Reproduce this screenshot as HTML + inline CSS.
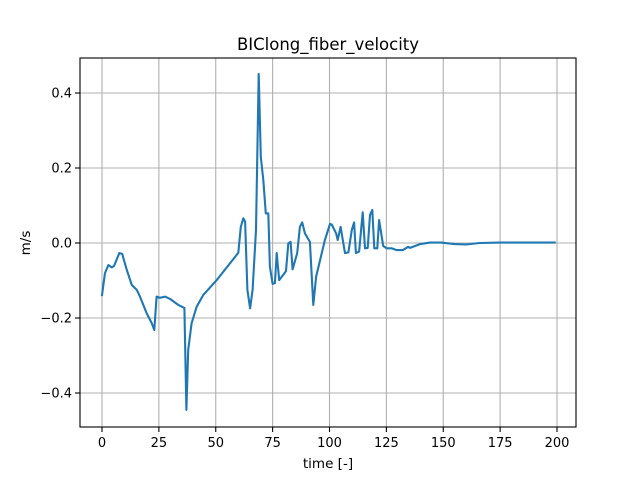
<!DOCTYPE html>
<html><head><meta charset="utf-8"><style>
body{margin:0;background:#fff;}
svg text{font-family:"DejaVu Sans","Liberation Sans",sans-serif;fill:#000;}
</style></head><body>
<svg id="chart" width="640" height="480" xmlns="http://www.w3.org/2000/svg">
<rect width="640" height="480" fill="#fff"/>
<g id="grid"></g>
<path id="series" fill="none" stroke="#1f77b4" stroke-width="2.1" stroke-linejoin="round" stroke-linecap="square"/>
<rect x="80" y="58" width="496" height="369" fill="none" stroke="#000" stroke-width="1.1"/>
<g id="ticks"></g>
<text x="328" y="50" font-size="16.5" text-anchor="middle">BIClong_fiber_velocity</text>
<text x="328" y="468" font-size="13.5" text-anchor="middle">time [-]</text>
<text x="30" y="243" font-size="13.5" text-anchor="middle" transform="rotate(-90 30 243)">m/s</text>
</svg>
<script>
const xValues=[0,1.3,2.8,4.3,5.3,7.6,8.9,10.9,13.1,15.3,16.7,19.6,21.8,23.0,24.0,25.5,27.7,29.9,33.5,36.2,37.1,37.9,39.4,41.6,44.5,50.4,59.9,61.0,62.1,62.9,63.9,65.1,66.2,67.7,68.9,69.8,70.9,72.0,73.1,73.8,75.0,76.0,76.8,77.9,80.9,81.9,82.9,83.8,85.8,87.0,88.0,89.2,91.4,92.9,94.1,98.0,100.2,101.0,102.9,103.6,104.9,106.8,108.3,109.8,110.8,111.6,113.0,114.6,115.6,116.8,117.8,118.8,119.7,121.0,121.8,123.6,125.1,127.3,129.5,132.2,134.6,135.4,139.8,144.2,149,155,160,166,175,185,199];
const yValues=[-0.139,-0.080,-0.059,-0.065,-0.061,-0.027,-0.029,-0.072,-0.112,-0.125,-0.143,-0.187,-0.213,-0.232,-0.143,-0.146,-0.143,-0.149,-0.165,-0.173,-0.445,-0.285,-0.214,-0.170,-0.139,-0.099,-0.026,0.043,0.066,0.057,-0.125,-0.174,-0.125,0.035,0.451,0.230,0.168,0.079,0.079,-0.063,-0.109,-0.107,-0.027,-0.099,-0.075,-0.001,0.003,-0.070,-0.027,0.043,0.055,0.026,0.003,-0.165,-0.090,0.008,0.051,0.049,0.026,0.008,0.043,-0.027,-0.025,0.035,0.055,-0.027,-0.023,0.082,-0.014,-0.013,0.075,0.088,-0.014,-0.014,0.061,-0.008,-0.014,-0.014,-0.019,-0.019,-0.010,-0.013,-0.003,0.001,0.001,-0.003,-0.004,0.000,0.001,0.001,0.001];
const xTicks=[0,25,50,75,100,125,150,175,200];
const yTicks=[-0.4,-0.2,0.0,0.2,0.4];
const xs=v=>102+v*2.275;
const ys=v=>243-v*375;
const NS="http://www.w3.org/2000/svg";
const grid=document.getElementById('grid'),ticks=document.getElementById('ticks');
function mk(tag,attrs,parent){const e=document.createElementNS(NS,tag);for(const k in attrs)e.setAttribute(k,attrs[k]);parent.appendChild(e);return e;}
xTicks.forEach(t=>{const x=xs(t);
 const g=mk('line',{x1:x,x2:x,y1:58,y2:427,stroke:'#b0b0b0','stroke-width':1.1},grid);
 
 
 mk('line',{x1:x,x2:x,y1:427,y2:432,stroke:'#000','stroke-width':1.1},ticks);
 const l=mk('text',{x:x,y:447,'font-size':13,'text-anchor':'middle'},ticks);l.textContent=t;
 
 
});
yTicks.forEach(t=>{const y=ys(t);
 const g=mk('line',{x1:80,x2:576,y1:y,y2:y,stroke:'#b0b0b0','stroke-width':1.1},grid);
 
 
 mk('line',{x1:75,x2:80,y1:y,y2:y,stroke:'#000','stroke-width':1.1},ticks);
 const l=mk('text',{x:72,y:y+4.5,'font-size':13,'text-anchor':'end'},ticks);l.textContent=(t<0?'\u2212':'')+Math.abs(t).toFixed(1);
 
 
});
document.getElementById('series').setAttribute('d',xValues.map((v,i)=>(i?'L':'M')+xs(v).toFixed(1)+','+ys(yValues[i]).toFixed(1)).join(''));
</script>
</body></html>
